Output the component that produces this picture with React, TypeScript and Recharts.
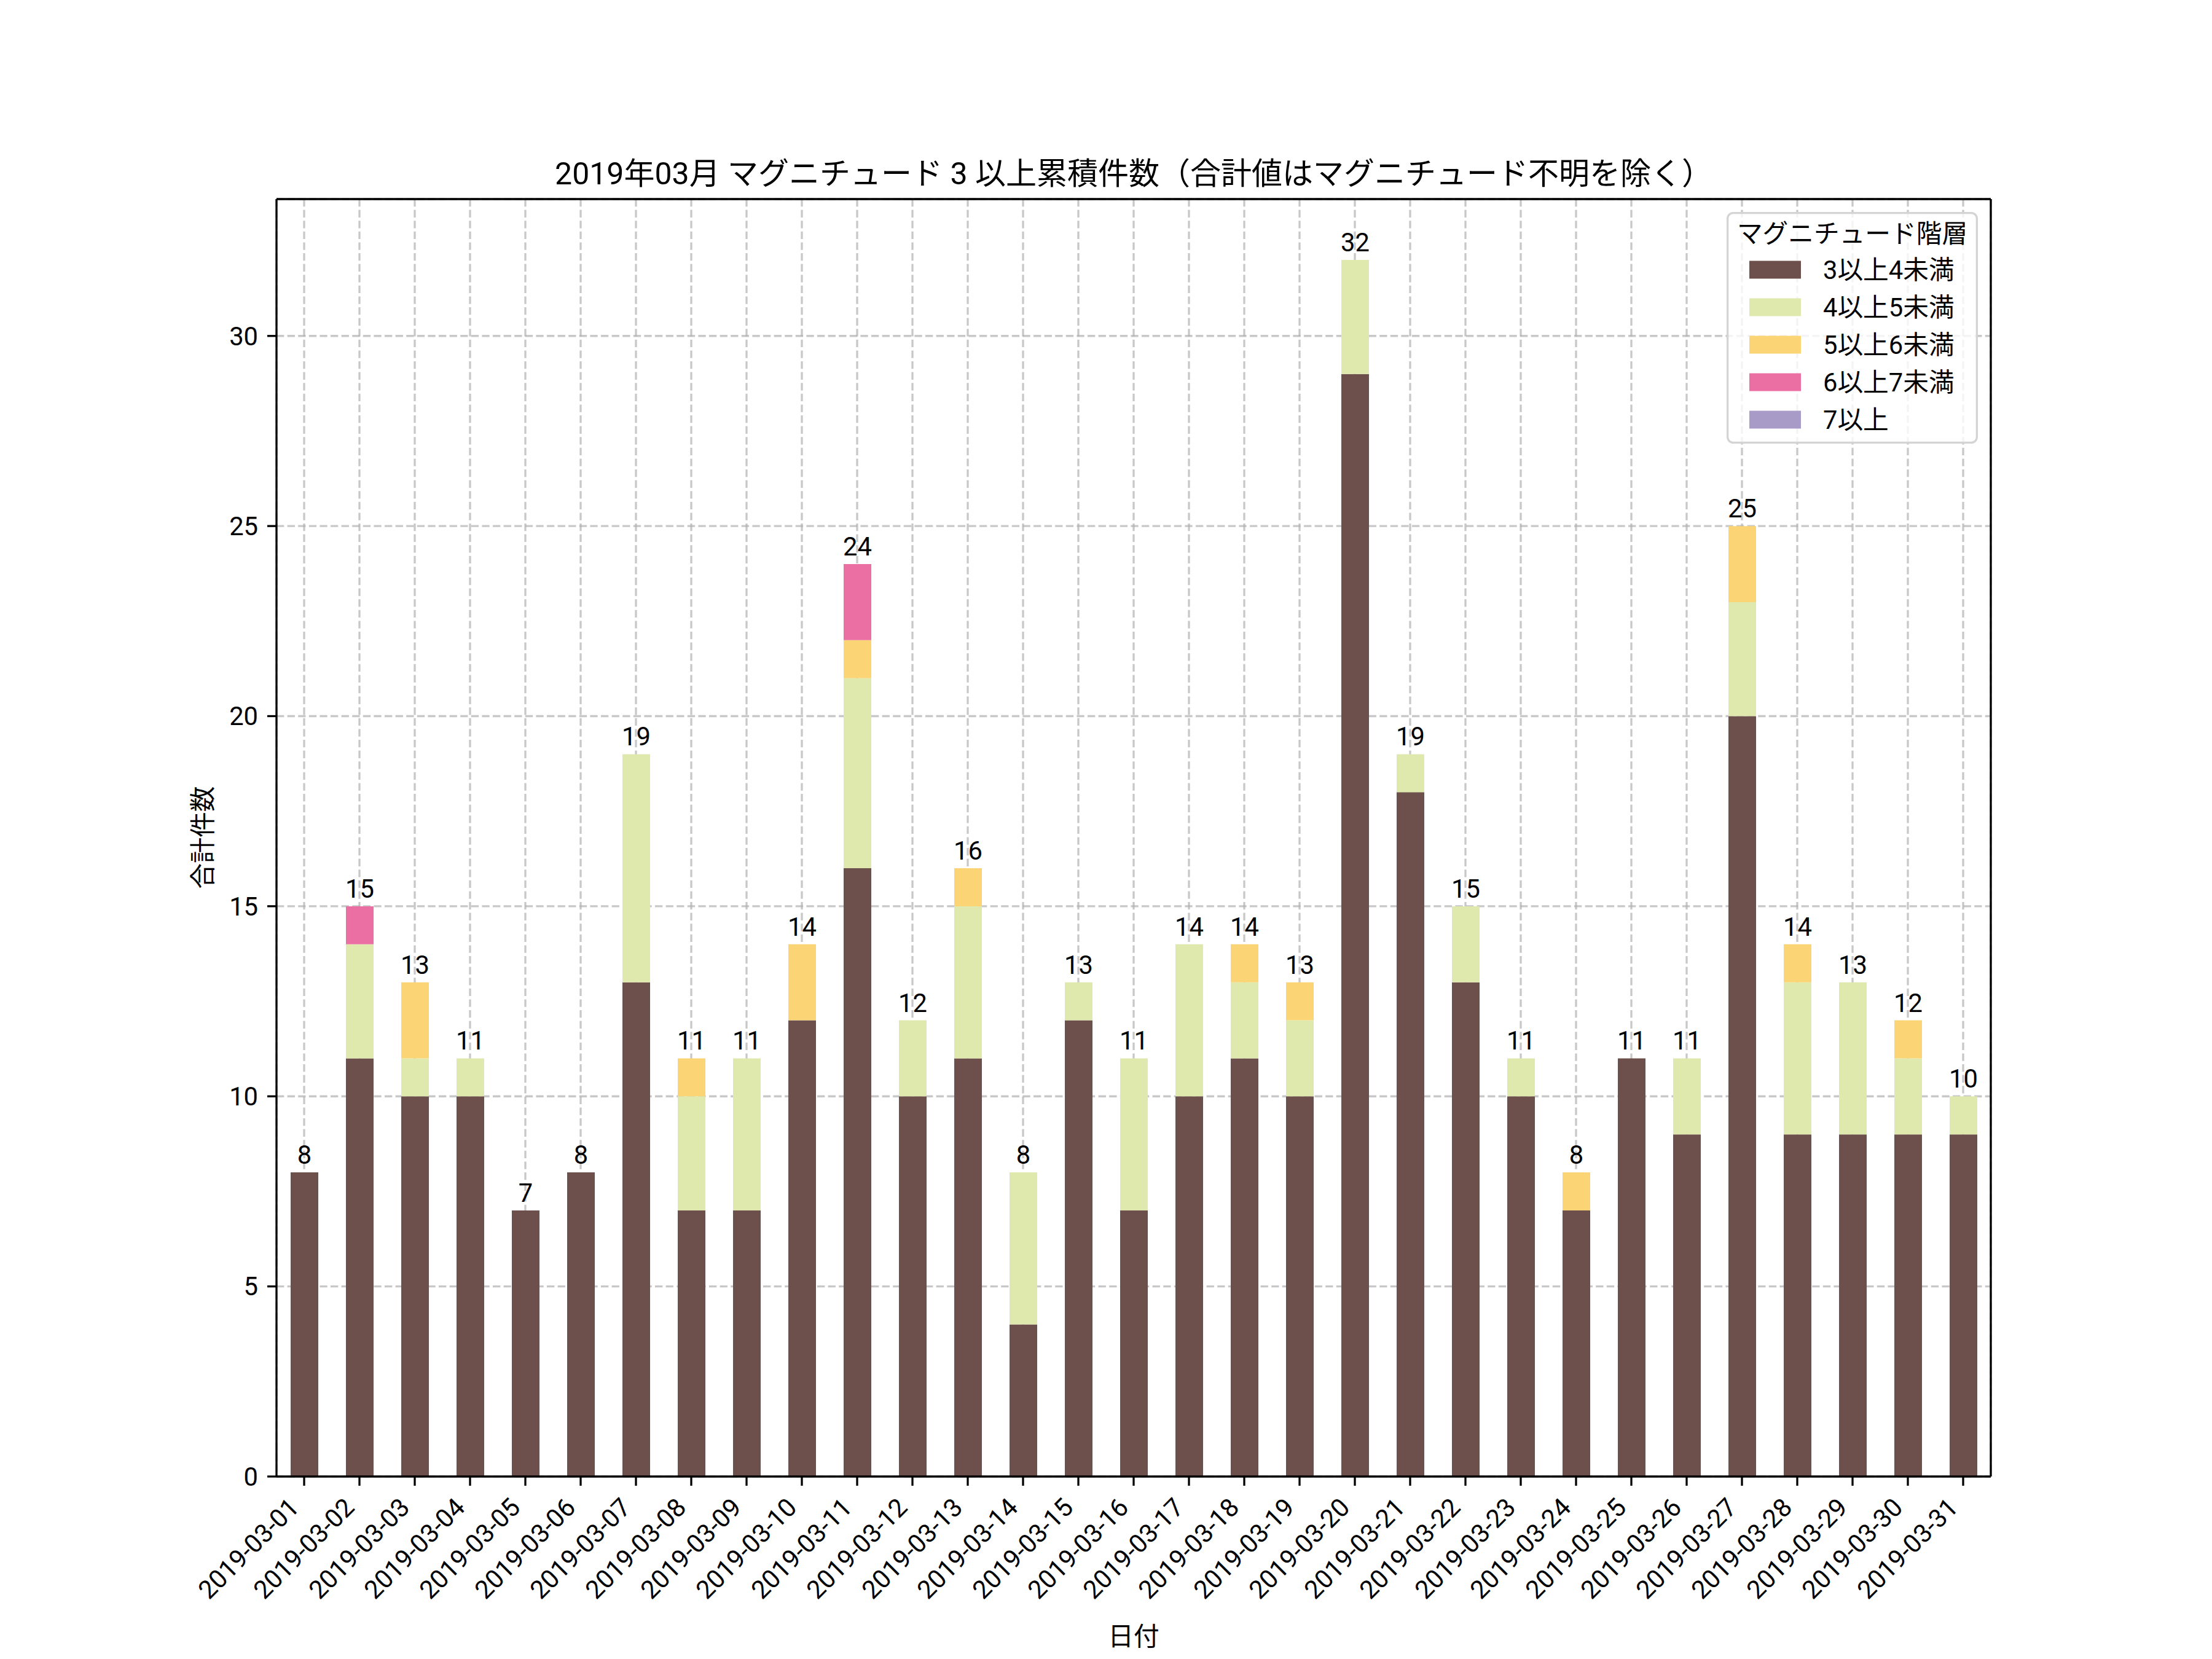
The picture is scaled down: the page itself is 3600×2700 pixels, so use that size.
import React from 'react';
import { BarChart, Bar, XAxis, YAxis, CartesianGrid, Legend, LabelList, ReferenceLine } from 'recharts';

const dates = [
  '2019-03-01', '2019-03-02', '2019-03-03', '2019-03-04', '2019-03-05', '2019-03-06', '2019-03-07', '2019-03-08',
  '2019-03-09', '2019-03-10', '2019-03-11', '2019-03-12', '2019-03-13', '2019-03-14', '2019-03-15', '2019-03-16',
  '2019-03-17', '2019-03-18', '2019-03-19', '2019-03-20', '2019-03-21', '2019-03-22', '2019-03-23', '2019-03-24',
  '2019-03-25', '2019-03-26', '2019-03-27', '2019-03-28', '2019-03-29', '2019-03-30', '2019-03-31',
];
const mag3to4 = [8, 11, 10, 10, 7, 8, 13, 7, 7, 12, 16, 10, 11, 4, 12, 7, 10, 11, 10, 29, 18, 13, 10, 7, 11, 9, 20, 9, 9, 9, 9];
const mag4to5 = [0, 3, 1, 1, 0, 0, 6, 3, 4, 0, 5, 2, 4, 4, 1, 4, 4, 2, 2, 3, 1, 2, 1, 0, 0, 2, 3, 4, 4, 2, 1];
const mag5to6 = [0, 0, 2, 0, 0, 0, 0, 1, 0, 2, 1, 0, 1, 0, 0, 0, 0, 1, 1, 0, 0, 0, 0, 1, 0, 0, 2, 1, 0, 1, 0];
const mag6to7 = [0, 1, 0, 0, 0, 0, 0, 0, 0, 0, 2, 0, 0, 0, 0, 0, 0, 0, 0, 0, 0, 0, 0, 0, 0, 0, 0, 0, 0, 0, 0];
const mag7plus = [0, 0, 0, 0, 0, 0, 0, 0, 0, 0, 0, 0, 0, 0, 0, 0, 0, 0, 0, 0, 0, 0, 0, 0, 0, 0, 0, 0, 0, 0, 0];
const yTicks = [0, 5, 10, 15, 20, 25, 30];
const yMax = 33.6;

const seriesKeys = ['m3', 'm4', 'm5', 'm6', 'm7'];
const seriesNames = ['3以上4未満', '4以上5未満', '5以上6未満', '6以上7未満', '7以上'];
const seriesColors = ['#6d4f4b', '#dfe9ae', '#fbd575', '#ec6fa4', '#a89bc8'];

const title = '2019年03月 マグニチュード 3 以上累積件数（合計値はマグニチュード不明を除く）';
const xLabel = '日付';
const yLabel = '合計件数';
const legendTitle = 'マグニチュード階層';

const seriesValues = [mag3to4, mag4to5, mag5to6, mag6to7, mag7plus];
const totals = dates.map((_, i) => seriesValues.reduce((s, arr) => s + arr[i], 0));
const data = dates.map((d, i) => ({
  date: d,
  m3: mag3to4[i],
  m4: mag4to5[i],
  m5: mag5to6[i],
  m6: mag6to7[i],
  m7: mag7plus[i],
  total: totals[i],
}));

const isTopSeries = (si: number, i: number) => {
  if (i < 0 || seriesValues[si][i] <= 0) return false;
  for (let k = si + 1; k < seriesValues.length; k++) {
    if (seriesValues[k][i] > 0) return false;
  }
  return true;
};

const FONT = 'Roboto, "Noto Sans CJK JP", sans-serif';
const FS = 41.7;

const DateTick = (props: any) => {
  const { x, y, payload } = props;
  const px = Number(x) - 6;
  const py = Number(y) + 38;
  return (
    <text x={px} y={py} transform={`rotate(-45, ${px}, ${py})`} textAnchor="end" fontSize={FS} fill="#000" fontFamily={FONT}>
      {payload.value}
    </text>
  );
};

const makeTotalLabel = (si: number) => (props: any) => {
  const { x, y, width, value } = props;
  const i = dates.indexOf(String(value));
  if (!isTopSeries(si, i)) return null;
  return (
    <text x={Number(x) + Number(width) / 2} y={Number(y) - 14} textAnchor="middle" fontSize={FS} fill="#000" fontFamily={FONT}>
      {totals[i]}
    </text>
  );
};

const LegendBox = () => {
  const w = 409;
  const h = 377;
  return (
    <svg width={w} height={h} style={{ display: 'block' }}>
      <rect x={1.65} y={1.65} width={w - 3.3} height={h - 3.3} rx={9} ry={9} fill="rgba(255,255,255,0.8)" stroke="#d4d4d4" strokeWidth={3.3} />
      <text x={w / 2} y={50} textAnchor="middle" fontSize={FS} fill="#000" fontFamily={FONT}>{legendTitle}</text>
      {seriesNames.map((n, i) => {
        const cy = 94 + i * 61;
        return (
          <g key={n}>
            <rect x={37} y={cy - 14.5} width={84} height={29} fill={seriesColors[i]} />
            <text x={157} y={cy + 15} fontSize={FS} fill="#000" fontFamily={FONT}>{n}</text>
          </g>
        );
      })}
    </svg>
  );
};

export default function App() {
  return (
    <div style={{ position: 'absolute', left: 0, top: 0, width: 3600, height: 2700, background: '#fff', fontFamily: FONT }}>
      <BarChart width={3600} height={2700} data={data} margin={{ top: 324, right: 360, bottom: 0, left: 0 }}>
        <XAxis
          dataKey="date"
          type="category"
          height={297}
          interval={0}
          tick={<DateTick />}
          tickSize={15}
          tickMargin={0}
          tickLine={{ stroke: '#000', strokeWidth: 3.3 }}
          axisLine={{ stroke: '#000', strokeWidth: 3.3 }}
        />
        <YAxis
          type="number"
          width={450}
          domain={[0, yMax]}
          ticks={yTicks}
          interval={0}
          allowDataOverflow
          tickSize={15}
          tickMargin={15}
          tick={{ fontSize: FS, fill: '#000', fontFamily: FONT }}
          tickLine={{ stroke: '#000', strokeWidth: 3.3 }}
          axisLine={{ stroke: '#000', strokeWidth: 3.3 }}
        />
        {seriesKeys.map((k, i) => (
          <Bar key={k} dataKey={k} name={seriesNames[i]} stackId="s" fill={seriesColors[i]} barSize={45} isAnimationActive={false}>
            <LabelList dataKey="date" content={makeTotalLabel(i)} />
          </Bar>
        ))}
        <CartesianGrid stroke="#b0b0b0" strokeOpacity={0.7} strokeDasharray="12.3 5.3" strokeWidth={3.3} />
        <ReferenceLine y={yMax} stroke="#000" strokeWidth={3.3} ifOverflow="visible" />
        <ReferenceLine x={dates[dates.length - 1]} position="end" stroke="#000" strokeWidth={3.3} ifOverflow="visible" />
        <Legend
          layout="vertical"
          align="center"
          verticalAlign="middle"
          content={<LegendBox />}
          wrapperStyle={{ left: 2810, top: 345, width: 409, height: 377 }}
        />
      </BarChart>
      <svg width={3600} height={2700} style={{ position: 'absolute', left: 0, top: 0, pointerEvents: 'none' }}>
        <text x={1845} y={300} textAnchor="middle" fontSize={50} fill="#000" fontFamily={FONT}>{title}</text>
        <text x={1845} y={2678} textAnchor="middle" fontSize={FS} fill="#000" fontFamily={FONT}>{xLabel}</text>
        <text x={345} y={1363} transform="rotate(-90, 345, 1363)" textAnchor="middle" fontSize={FS} fill="#000" fontFamily={FONT}>{yLabel}</text>
      </svg>
    </div>
  );
}
